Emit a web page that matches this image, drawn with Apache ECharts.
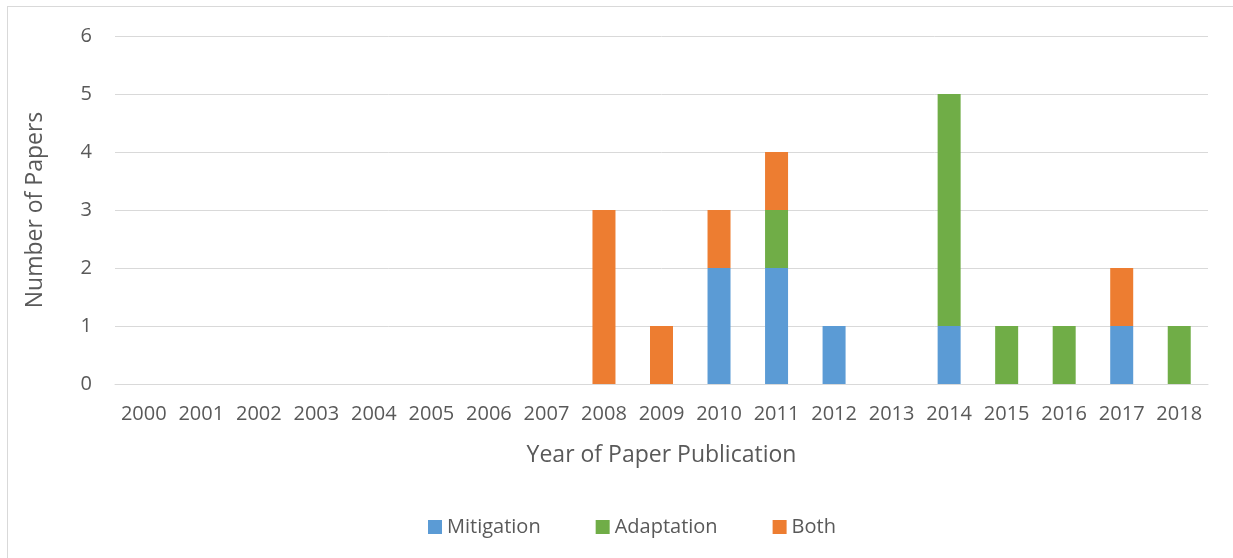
<!DOCTYPE html>
<html>
<head>
<meta charset="utf-8">
<script src="https://cdn.jsdelivr.net/npm/echarts@6/dist/echarts.min.js"></script>
<style>
html,body{margin:0;padding:0;background:#fff;}
#frame{position:absolute;left:7px;top:6px;width:1240px;height:560px;border-left:1px solid #d9d9d9;border-top:1px solid #d9d9d9;}
#c{position:absolute;left:0;top:0;width:1233px;height:558px;}
</style>
</head>
<body>
<div id="frame"></div>
<div id="c"></div>
<script>
const years = ['2000','2001','2002','2003','2004','2005','2006','2007','2008','2009','2010','2011','2012','2013','2014','2015','2016','2017','2018'];
const mitigation = [0,0,0,0,0,0,0,0,0,0,2,2,1,0,1,0,0,1,0];
const adaptation = [0,0,0,0,0,0,0,0,0,0,0,1,0,0,4,1,1,0,1];
const both       = [0,0,0,0,0,0,0,0,3,1,1,1,0,0,0,0,0,1,0];

const font = 'Open Sans';
const txt = '#595959';
const chart = echarts.init(document.getElementById('c'));
function ser(name, data, color){
  return {name, type:'bar', stack:'total', data: data.map(v => v === 0 ? null : v),
    barWidth: 23, itemStyle:{color}, emphasis:{disabled:true}};
}
chart.setOption({
  animation:false,
  textStyle:{fontFamily:font},
  grid:{left:115, right:25, top:36, bottom:174},
  legend:{bottom:16, left:423, itemWidth:14, itemHeight:14, itemGap:55, icon:'rect',
    textStyle:{color:txt, fontSize:20, fontFamily:font},
    data:['Mitigation','Adaptation','Both']},
  xAxis:{type:'category', data:years,
    name:'Year of Paper Publication', nameLocation:'middle', nameGap:60,
    nameTextStyle:{color:txt, fontSize:23, fontFamily:font},
    axisLine:{lineStyle:{color:'#d9d9d9', width:1}}, axisTick:{show:false},
    axisLabel:{color:txt, fontSize:20, margin:20, interval:0, fontFamily:font}},
  yAxis:{type:'value', min:0, max:6, interval:1,
    name:'Number of Papers', nameLocation:'middle', nameGap:68,
    nameTextStyle:{color:txt, fontSize:23, fontFamily:font},
    axisLine:{show:false}, axisTick:{show:false},
    splitLine:{lineStyle:{color:'#d9d9d9', width:1}},
    axisLabel:{color:txt, fontSize:20, margin:23, fontFamily:font}},
  series:[ser('Mitigation', mitigation, '#5B9BD5'), ser('Adaptation', adaptation, '#70AD47'), ser('Both', both, '#ED7D31')]
});
</script>
</body>
</html>
